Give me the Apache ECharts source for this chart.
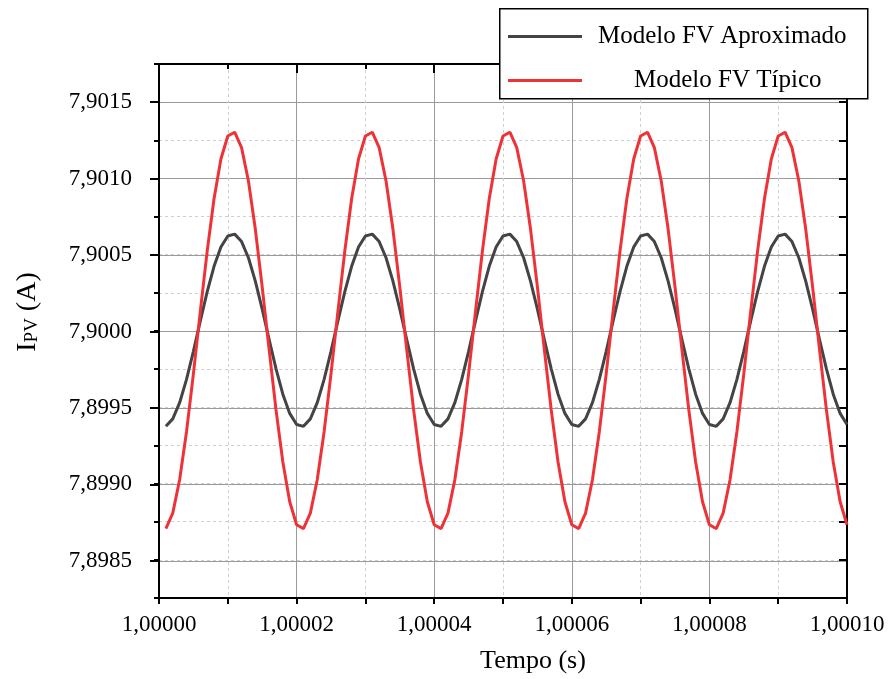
<!DOCTYPE html>
<html>
<head>
<meta charset="utf-8">
<script src="https://cdn.jsdelivr.net/npm/echarts@6/dist/echarts.min.js"></script>
<style>
html,body{margin:0;padding:0;background:#fff;}
#chart{width:888px;height:679px;}
</style>
</head>
<body>
<div id="chart"></div>
<script>
// Time (s)
var tempo = [
1.000001,1.000002,1.000003,1.000004,1.000005,1.000006,1.000007,1.000008,1.000009,1.000010,
1.000011,1.000012,1.000013,1.000014,1.000015,1.000016,1.000017,1.000018,1.000019,1.000020,
1.000021,1.000022,1.000023,1.000024,1.000025,1.000026,1.000027,1.000028,1.000029,1.000030,
1.000031,1.000032,1.000033,1.000034,1.000035,1.000036,1.000037,1.000038,1.000039,1.000040,
1.000041,1.000042,1.000043,1.000044,1.000045,1.000046,1.000047,1.000048,1.000049,1.000050,
1.000051,1.000052,1.000053,1.000054,1.000055,1.000056,1.000057,1.000058,1.000059,1.000060,
1.000061,1.000062,1.000063,1.000064,1.000065,1.000066,1.000067,1.000068,1.000069,1.000070,
1.000071,1.000072,1.000073,1.000074,1.000075,1.000076,1.000077,1.000078,1.000079,1.000080,
1.000081,1.000082,1.000083,1.000084,1.000085,1.000086,1.000087,1.000088,1.000089,1.000090,
1.000091,1.000092,1.000093,1.000094,1.000095,1.000096,1.000097,1.000098,1.000099,1.000100
];
// Modelo FV Aproximado (A)
var aproximado = [
7.899375,7.899424,7.899530,7.899683,7.899867,7.900065,7.900256,7.900424,7.900550,7.900623,
7.900635,7.900586,7.900480,7.900327,7.900143,7.899945,7.899754,7.899586,7.899460,7.899387,
7.899375,7.899424,7.899530,7.899683,7.899867,7.900065,7.900256,7.900424,7.900550,7.900623,
7.900635,7.900586,7.900480,7.900327,7.900143,7.899945,7.899754,7.899586,7.899460,7.899387,
7.899375,7.899424,7.899530,7.899683,7.899867,7.900065,7.900256,7.900424,7.900550,7.900623,
7.900635,7.900586,7.900480,7.900327,7.900143,7.899945,7.899754,7.899586,7.899460,7.899387,
7.899375,7.899424,7.899530,7.899683,7.899867,7.900065,7.900256,7.900424,7.900550,7.900623,
7.900635,7.900586,7.900480,7.900327,7.900143,7.899945,7.899754,7.899586,7.899460,7.899387,
7.899375,7.899424,7.899530,7.899683,7.899867,7.900065,7.900256,7.900424,7.900550,7.900623,
7.900635,7.900586,7.900480,7.900327,7.900143,7.899945,7.899754,7.899586,7.899460,7.899387
];
// Modelo FV Típico (A)
var tipico = [
7.898705,7.898806,7.899025,7.899340,7.899719,7.900127,7.900522,7.900867,7.901127,7.901278,
7.901303,7.901202,7.900983,7.900668,7.900289,7.899881,7.899486,7.899141,7.898881,7.898730,
7.898705,7.898806,7.899025,7.899340,7.899719,7.900127,7.900522,7.900867,7.901127,7.901278,
7.901303,7.901202,7.900983,7.900668,7.900289,7.899881,7.899486,7.899141,7.898881,7.898730,
7.898705,7.898806,7.899025,7.899340,7.899719,7.900127,7.900522,7.900867,7.901127,7.901278,
7.901303,7.901202,7.900983,7.900668,7.900289,7.899881,7.899486,7.899141,7.898881,7.898730,
7.898705,7.898806,7.899025,7.899340,7.899719,7.900127,7.900522,7.900867,7.901127,7.901278,
7.901303,7.901202,7.900983,7.900668,7.900289,7.899881,7.899486,7.899141,7.898881,7.898730,
7.898705,7.898806,7.899025,7.899340,7.899719,7.900127,7.900522,7.900867,7.901127,7.901278,
7.901303,7.901202,7.900983,7.900668,7.900289,7.899881,7.899486,7.899141,7.898881,7.898730
];
var seriesNames = ['Modelo FV Aproximado', 'Modelo FV Típico'];
var xMin = 1.0, xMax = 1.0001, xStep = 0.00002;
var yMajorMin = 7.8985, yMajorMax = 7.9015, yMajorStep = 0.0005;
var yFullMin = 7.89825, yFullMax = 7.90175, yMinorStep = 0.00025;

var FONT = 'Liberation Serif';
var chart = echarts.init(document.getElementById('chart'), null, {renderer: 'canvas'});

function pairs(xs, ys) { return xs.map(function (x, i) { return [x, ys[i]]; }); }

var gridLeft = 159, gridRight = 41, gridTop = 64, gridBottom = 80;
var plotH = 679 - gridTop - gridBottom;
var pxPerUnit = plotH / (yFullMax - yFullMin);
var pad = (yMajorMin - yFullMin) * pxPerUnit;

var option = {
  backgroundColor: '#fff',
  animation: false,
  grid: [
    {left: gridLeft, right: gridRight, top: gridTop, bottom: gridBottom},
    {left: gridLeft, right: gridRight, top: gridTop + pad, bottom: gridBottom + pad}
  ],
  xAxis: [
    {
      type: 'value', gridIndex: 0, position: 'bottom', min: xMin, max: xMax, interval: xStep,
      name: 'Tempo (s)', nameLocation: 'middle', nameGap: 50,
      nameTextStyle: {fontFamily: FONT, fontSize: 26, color: '#000', padding: [0, 0, 0, 60]},
      axisLine: {show: true, onZero: false, lineStyle: {color: '#000', width: 2}},
      axisTick: {show: true, inside: false, length: 6, lineStyle: {color: '#000', width: 2}},
      minorTick: {show: true, splitNumber: 2, length: 6, lineStyle: {color: '#000', width: 2}},
      axisLabel: {show: true, margin: 15, fontFamily: FONT, fontSize: 23, color: '#000',
        formatter: function (v) { return v.toFixed(5).replace('.', ','); }},
      splitLine: {show: true, lineStyle: {color: '#9a9a9a', width: 1}},
      minorSplitLine: {show: true, lineStyle: {color: '#cfcfcf', width: 1, type: [3, 3]}}
    },
    {
      type: 'value', gridIndex: 0, position: 'top', min: xMin, max: xMax, interval: xStep,
      axisLine: {show: true, onZero: false, lineStyle: {color: '#000', width: 2}},
      axisTick: {show: true, inside: true, length: 9, lineStyle: {color: '#000', width: 2}},
      minorTick: {show: true, splitNumber: 2, length: 5, lineStyle: {color: '#000', width: 2}},
      axisLabel: {show: false},
      splitLine: {show: false}
    },
    {
      type: 'value', gridIndex: 1, min: xMin, max: xMax, interval: xStep, show: false
    }
  ],
  yAxis: [
    {
      type: 'value', gridIndex: 0, position: 'left', min: yFullMin, max: yFullMax, interval: yMinorStep,
      name: '{a|I}{b|PV}{a| (A)}', nameLocation: 'middle', nameRotate: 90, nameGap: 117,
      nameTextStyle: {fontFamily: FONT, color: '#000', padding: [0, 0, 0, 38],
        rich: {
          a: {fontFamily: FONT, fontSize: 28, color: '#000'},
          b: {fontFamily: FONT, fontSize: 19, color: '#000', verticalAlign: 'bottom'}
        }},
      axisLine: {show: true, onZero: false, lineStyle: {color: '#000', width: 2}},
      axisTick: {show: true, inside: false, length: 5, lineStyle: {color: '#000', width: 2}},
      axisLabel: {show: false},
      splitLine: {show: true, lineStyle: {color: '#cfcfcf', width: 1, type: [3, 3]}}
    },
    {
      type: 'value', gridIndex: 0, position: 'right', min: yFullMin, max: yFullMax, interval: yMinorStep,
      axisLine: {show: true, onZero: false, lineStyle: {color: '#000', width: 2}},
      axisTick: {show: true, inside: true, length: 8, lineStyle: {color: '#000', width: 2}},
      axisLabel: {show: false},
      splitLine: {show: false}
    },
    {
      type: 'value', gridIndex: 1, position: 'left', min: yMajorMin, max: yMajorMax, interval: yMajorStep,
      axisLine: {show: true, onZero: false, lineStyle: {color: '#000', width: 2}},
      axisTick: {show: true, inside: false, length: 9, lineStyle: {color: '#000', width: 2}},
      axisLabel: {show: true, margin: 27, fontFamily: FONT, fontSize: 23, color: '#000',
        formatter: function (v) { return v.toFixed(4).replace('.', ','); }},
      splitLine: {show: true, lineStyle: {color: '#9a9a9a', width: 1}}
    }
  ],
  legend: [
    {
      data: [seriesNames[0]], left: 508, top: 23, padding: 0, orient: 'vertical',
      icon: 'rect', itemWidth: 74, itemHeight: 3, z: 60, selectedMode: false,
      textStyle: {fontFamily: FONT, fontSize: 25, lineHeight: 27, color: '#000', padding: [0, 0, 0, 11]}
    },
    {
      data: [seriesNames[1]], left: 508, top: 67, padding: 0, orient: 'vertical',
      icon: 'rect', itemWidth: 74, itemHeight: 3, z: 60, selectedMode: false,
      textStyle: {fontFamily: FONT, fontSize: 25, lineHeight: 27, color: '#000', padding: [0, 0, 0, 47]}
    }
  ],
  graphic: [
    {type: 'rect', left: 499, top: 8, z: 50, silent: true,
      shape: {width: 368, height: 90},
      style: {fill: '#fff', stroke: '#000', lineWidth: 1.5}}
  ],
  series: [
    {
      name: seriesNames[0], type: 'line', xAxisIndex: 0, yAxisIndex: 0,
      data: pairs(tempo, aproximado), showSymbol: false, symbol: 'none',
      lineStyle: {color: '#444444', width: 3}, itemStyle: {color: '#444444'}, z: 3
    },
    {
      name: seriesNames[1], type: 'line', xAxisIndex: 0, yAxisIndex: 0,
      data: pairs(tempo, tipico), showSymbol: false, symbol: 'none',
      lineStyle: {color: '#ee3338', width: 3}, itemStyle: {color: '#ee3338'}, z: 4
    }
  ]
};
chart.setOption(option);
</script>
</body>
</html>
